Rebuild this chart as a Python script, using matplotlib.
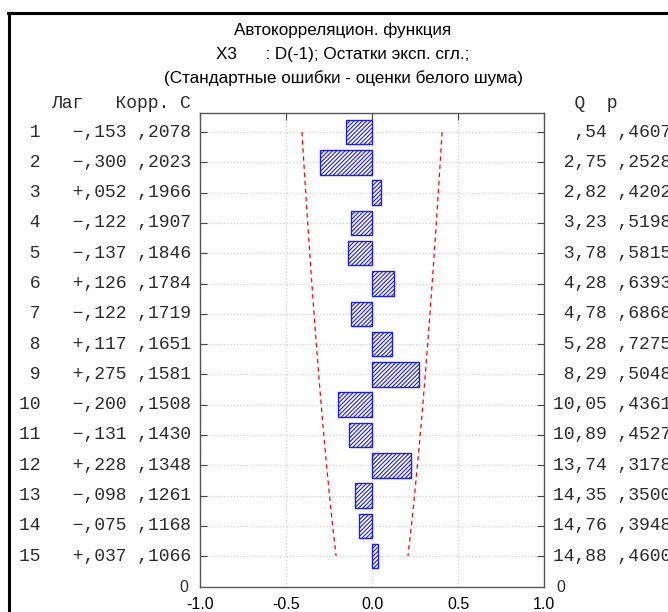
import numpy as np
import matplotlib
matplotlib.use("Agg")
import matplotlib.pyplot as plt

# ACF table: lag, autocorrelation, standard error, Box-Ljung Q, p
lags = list(range(1, 16))
corr = [-0.153, -0.300, 0.052, -0.122, -0.137, 0.126, -0.122, 0.117,
        0.275, -0.200, -0.131, 0.228, -0.098, -0.075, 0.037]
se = [0.2078, 0.2023, 0.1966, 0.1907, 0.1846, 0.1784, 0.1719, 0.1651,
      0.1581, 0.1508, 0.1430, 0.1348, 0.1261, 0.1168, 0.1066]
q_stat = [0.54, 2.75, 2.82, 3.23, 3.78, 4.28, 4.78, 5.28,
          8.29, 10.05, 10.89, 13.74, 14.35, 14.76, 14.88]
p_val = [0.4607, 0.2528, 0.4202, 0.5198, 0.5815, 0.6393, 0.6868, 0.7275,
         0.5048, 0.4361, 0.4527, 0.3178, 0.3500, 0.3948, 0.4600]
x_ticks = [-1.0, -0.5, 0.0, 0.5, 1.0]


def ru(v, nd):
    # ",153" style: no leading zero, decimal comma
    s = f"{abs(v):.{nd}f}"
    if s.startswith("0"):
        s = s[1:]
    return s.replace(".", ",")


mono = "Liberation Mono"
sans = "Liberation Sans"
txt_col = "#2b2b2b"
plt.rcParams["hatch.linewidth"] = 0.8

fig = plt.figure(figsize=(6.68, 6.12), dpi=100)
ax = fig.add_axes([200 / 668, 25 / 612, 344 / 668, 474 / 612])

ax.barh(lags, corr, height=0.81, left=0, color="white", edgecolor="#1a1aff",
        hatch="////////", linewidth=1.0, zorder=3)

lim = 1.96 * np.array(se)
ax.plot(-lim, lags, color="red", ls=(0, (3.5, 3)), lw=0.9, zorder=4)
ax.plot(lim, lags, color="red", ls=(0, (3.5, 3)), lw=0.9, zorder=4)

ax.set_xlim(-1, 1)
ax.set_ylim(16.02, 0.37)
ax.set_yticks(lags)
ax.set_yticklabels([])
ax.set_xticks(x_ticks)
ax.set_xticklabels([f"{t:.1f}" for t in x_ticks], family=sans, fontsize=11.5)
ax.tick_params(axis="y", direction="in", length=5, left=True, right=True,
               color="#444444")
ax.tick_params(axis="x", direction="in", length=5, top=True, bottom=False,
               pad=7, color="#444444")
ax.grid(True, color="#cfcfcf", ls=":", lw=0.9, zorder=0)
for s in ax.spines.values():
    s.set_color("#555555")
    s.set_linewidth(1.0)

tr = ax.get_yaxis_transform()
for i, lag in enumerate(lags):
    sign = "+" if corr[i] >= 0 else "\u2212"
    left_s = f"{lag:>2}   {sign}{ru(corr[i], 3)} {ru(se[i], 4)}"
    right_s = f"{ru(q_stat[i], 2):>5} {ru(p_val[i], 4)}"
    ax.text(-9 / 344, lag, left_s, transform=tr, ha="right", va="center",
            family=mono, fontsize=13, color=txt_col)
    ax.text(1 + 9 / 344, lag, right_s, transform=tr, ha="left", va="center",
            family=mono, fontsize=13, color=txt_col, clip_on=False)

ax.text(-9 / 344, 0.37 - 0.33, "Лаг   Корр. С", transform=tr, ha="right",
        va="center", family=mono, fontsize=13, color=txt_col)
ax.text(1 + 9 / 344, 0.37 - 0.33, "  Q  p", transform=tr, ha="left",
        va="center", family=mono, fontsize=13, color=txt_col)
ax.text(-12 / 344, 16.02, "0", transform=tr, ha="right", va="center",
        family=sans, fontsize=11.5, color=txt_col)
ax.text(1 + 12 / 344, 16.02, "0", transform=tr, ha="left", va="center",
        family=sans, fontsize=11.5, color=txt_col)

fig.text(343 / 668, 1 - 30 / 612, "Автокорреляцион. функция", ha="center",
         va="center", family=sans, fontsize=12.3)
fig.text(343 / 668, 1 - 54 / 612, "X3      : D(-1); Остатки эксп. сгл.;",
         ha="center", va="center", family=sans, fontsize=12.3)
fig.text(343 / 668, 1 - 78 / 612, "(Стандартные ошибки - оценки белого шума)",
         ha="center", va="center", family=sans, fontsize=12.3)

# outer frame (left and top edges)
fig.add_artist(plt.Line2D([9 / 668, 9 / 668], [0, 1 - 13 / 612],
                          transform=fig.transFigure, color="black", lw=2.2))
fig.add_artist(plt.Line2D([8 / 668, 1], [1 - 13 / 612, 1 - 13 / 612],
                          transform=fig.transFigure, color="black", lw=2.2))

fig.savefig("out.png", dpi=100)
